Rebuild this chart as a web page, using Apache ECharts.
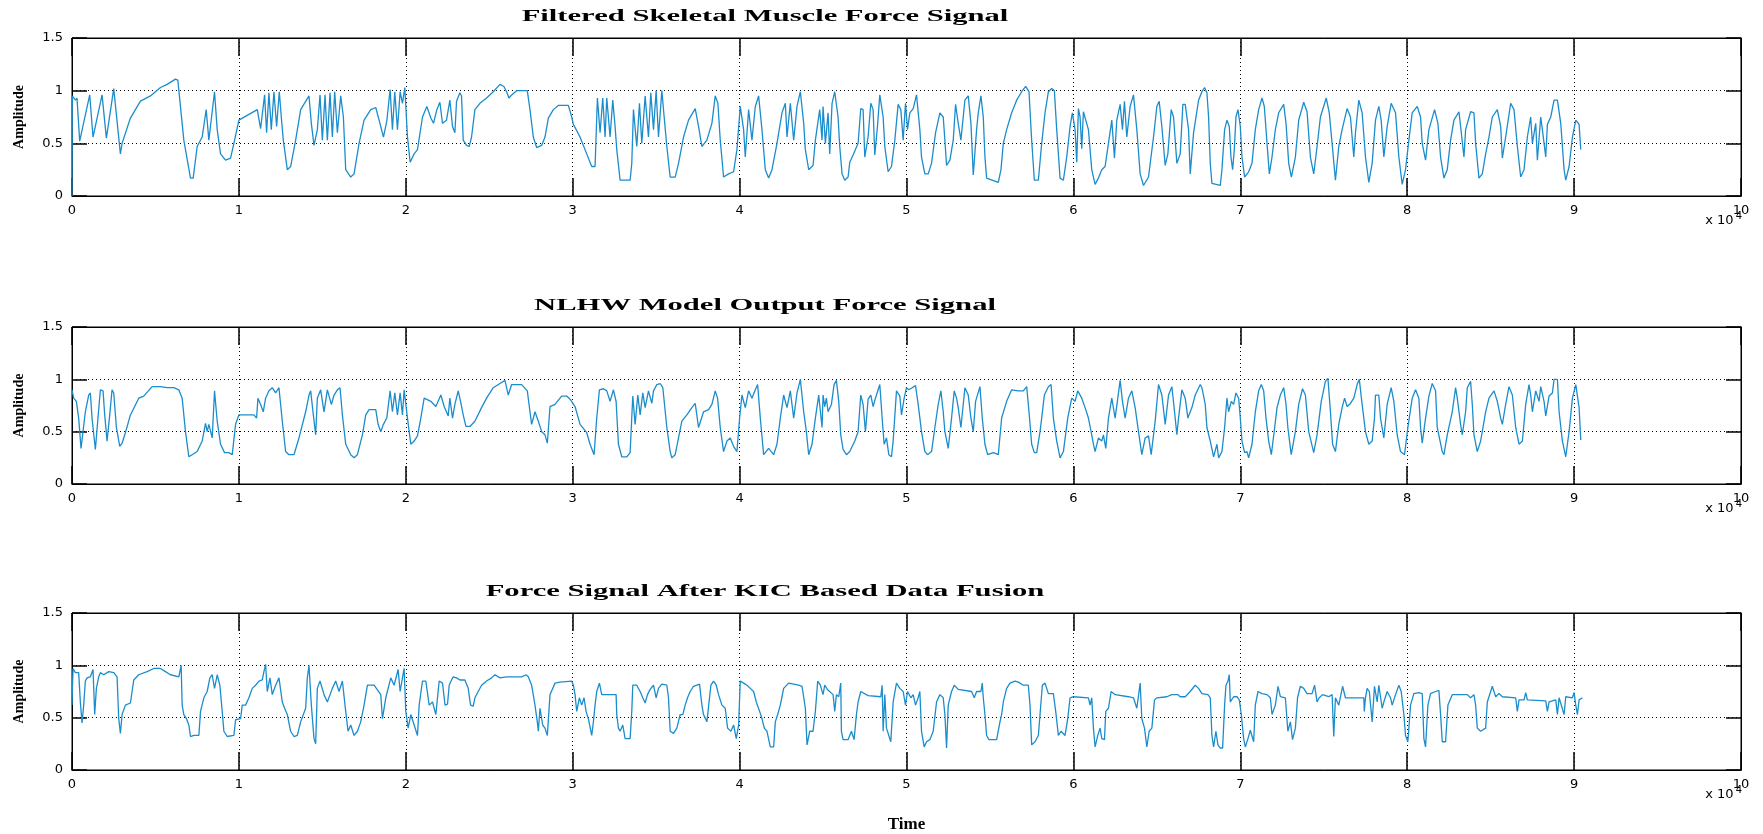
<!DOCTYPE html>
<html>
<head>
<meta charset="utf-8">
<title>Force signals</title>
<script src="https://cdn.jsdelivr.net/npm/echarts@6/dist/echarts.min.js"></script>
<style>
html, body { margin: 0; padding: 0; background: #fff; }
#chart { width: 1763px; height: 834px; }
</style>
</head>
<body>
<div id="chart"></div>
<script>
// time is in units of 10^4 samples, as on the axis
var xTickLabels = ['0', '1', '2', '3', '4', '5', '6', '7', '8', '9', '10'];
var yTickLabels = ['0', '0.5', '1', '1.5'];
var plotTitles = [
    'Filtered Skeletal Muscle Force Signal',
    'NLHW Model Output Force Signal',
    'Force Signal After KIC Based Data Fusion'
];

var muscleForce = [
    [0,0],[0.002,0.95],[0.02,0.91],[0.03,0.93],[0.046,0.52],[0.106,0.96],[0.126,0.56],[0.18,0.96],[0.206,0.55],[0.25,1.02],
    [0.29,0.40],[0.30,0.50],[0.35,0.74],[0.41,0.90],[0.47,0.95],[0.53,1.03],[0.57,1.06],[0.62,1.11],[0.634,1.10],[0.67,0.53],
    [0.71,0.17],[0.726,0.17],[0.75,0.47],[0.78,0.56],[0.804,0.82],[0.82,0.53],[0.854,0.99],[0.87,0.63],[0.89,0.40],[0.92,0.34],
    [0.95,0.36],[0.97,0.50],[1.0,0.72],[1.11,0.82],[1.13,0.64],[1.154,0.96],[1.166,0.60],[1.18,0.98],[1.194,0.63],[1.21,0.99],
    [1.226,0.66],[1.242,0.99],[1.254,0.75],[1.266,0.53],[1.29,0.25],[1.31,0.28],[1.34,0.53],[1.37,0.82],[1.42,0.95],[1.434,0.69],
    [1.45,0.48],[1.47,0.63],[1.486,0.96],[1.50,0.53],[1.516,0.96],[1.53,0.53],[1.546,0.98],[1.56,0.56],[1.574,0.99],[1.59,0.60],
    [1.61,0.95],[1.626,0.75],[1.64,0.25],[1.67,0.18],[1.69,0.21],[1.72,0.50],[1.75,0.72],[1.79,0.82],[1.82,0.84],[1.84,0.72],
    [1.866,0.56],[1.886,0.71],[1.906,1.01],[1.92,0.63],[1.934,0.99],[1.95,0.63],[1.966,0.99],[1.98,0.88],[1.994,1.03],[2.01,0.56],
    [2.026,0.32],[2.05,0.40],[2.07,0.44],[2.10,0.75],[2.126,0.85],[2.15,0.74],[2.166,0.69],[2.186,0.82],[2.204,0.89],[2.22,0.69],
    [2.244,0.72],[2.264,0.91],[2.28,0.66],[2.294,0.60],[2.304,0.90],[2.324,0.98],[2.334,0.95],[2.344,0.53],[2.364,0.48],[2.38,0.47],
    [2.394,0.56],[2.414,0.82],[2.444,0.88],[2.484,0.93],[2.524,0.99],[2.564,1.06],[2.588,1.04],[2.604,0.99],[2.618,0.93],[2.634,0.96],
    [2.664,1.0],[2.728,1.0],[2.744,0.82],[2.764,0.56],[2.784,0.46],[2.814,0.48],[2.834,0.56],[2.854,0.74],[2.884,0.82],[2.914,0.86],
    [2.974,0.86],[2.994,0.75],[3.004,0.68],[3.044,0.56],[3.084,0.40],[3.114,0.28],[3.134,0.28],[3.148,0.93],[3.164,0.60],[3.18,0.93],
    [3.194,0.56],[3.204,0.93],[3.224,0.56],[3.24,0.91],[3.254,0.66],[3.264,0.44],[3.284,0.15],[3.344,0.15],[3.354,0.31],[3.364,0.82],
    [3.384,0.47],[3.40,0.88],[3.414,0.50],[3.434,0.95],[3.454,0.56],[3.468,0.98],[3.484,0.63],[3.50,1.0],[3.514,0.56],[3.534,1.0],
    [3.548,0.75],[3.564,0.47],[3.584,0.18],[3.614,0.18],[3.634,0.31],[3.664,0.56],[3.694,0.72],[3.734,0.83],[3.754,0.66],[3.774,0.47],
    [3.804,0.53],[3.834,0.69],[3.854,0.95],[3.87,0.88],[3.884,0.53],[3.904,0.18],[3.934,0.21],[3.964,0.23],[3.984,0.44],[4.004,0.85],
    [4.024,0.63],[4.034,0.37],[4.054,0.82],[4.074,0.53],[4.094,0.85],[4.114,0.95],[4.134,0.63],[4.154,0.25],[4.174,0.17],[4.194,0.25],
    [4.224,0.50],[4.254,0.79],[4.274,0.88],[4.284,0.56],[4.304,0.88],[4.324,0.53],[4.344,0.85],[4.364,0.99],[4.384,0.69],[4.394,0.44],
    [4.414,0.25],[4.44,0.29],[4.454,0.53],[4.48,0.82],[4.494,0.53],[4.50,0.85],[4.514,0.50],[4.53,0.79],[4.54,0.40],[4.554,0.88],
    [4.57,0.99],[4.58,1.0],[4.59,0.75],[4.60,0.47],[4.614,0.21],[4.63,0.15],[4.65,0.18],[4.66,0.32],[4.68,0.39],[4.71,0.50],
    [4.726,0.83],[4.74,0.82],[4.75,0.37],[4.77,0.56],[4.786,0.88],[4.80,0.82],[4.81,0.39],[4.826,0.66],[4.84,0.96],[4.86,0.75],
    [4.87,0.47],[4.89,0.23],[4.91,0.28],[4.93,0.53],[4.95,0.87],[4.966,0.82],[4.98,0.53],[4.994,0.88],[5.006,0.63],[5.02,0.79],
    [5.04,0.83],[5.06,0.96],[5.08,0.63],[5.09,0.37],[5.11,0.21],[5.13,0.21],[5.15,0.31],[5.174,0.60],[5.20,0.79],[5.22,0.75],
    [5.23,0.53],[5.24,0.29],[5.26,0.34],[5.28,0.53],[5.294,0.87],[5.31,0.69],[5.326,0.53],[5.35,0.91],[5.37,0.95],[5.386,0.69],
    [5.40,0.20],[5.42,0.63],[5.43,0.79],[5.446,0.95],[5.46,0.75],[5.47,0.37],[5.48,0.17],[5.55,0.13],[5.566,0.25],[5.58,0.50],
    [5.60,0.63],[5.63,0.79],[5.66,0.91],[5.69,0.99],[5.714,1.04],[5.734,0.99],[5.75,0.53],[5.766,0.15],[5.79,0.15],[5.81,0.50],
    [5.83,0.79],[5.85,0.99],[5.87,1.02],[5.886,1.0],[5.90,0.63],[5.92,0.17],[5.94,0.15],[5.96,0.37],[5.98,0.66],[5.994,0.79],
    [6.01,0.63],[6.02,0.32],[6.03,0.83],[6.04,0.75],[6.05,0.45],[6.06,0.80],[6.07,0.80],[6.09,0.63],[6.11,0.25],[6.13,0.11],
    [6.15,0.17],[6.17,0.25],[6.19,0.28],[6.21,0.50],[6.23,0.72],[6.246,0.36],[6.26,0.72],[6.28,0.87],[6.294,0.63],[6.306,0.90],
    [6.32,0.56],[6.34,0.85],[6.36,0.96],[6.38,0.63],[6.40,0.21],[6.42,0.10],[6.45,0.18],[6.48,0.56],[6.50,0.85],[6.514,0.90],
    [6.53,0.66],[6.55,0.29],[6.566,0.40],[6.586,0.82],[6.60,0.75],[6.62,0.31],[6.64,0.40],[6.656,0.87],[6.67,0.87],[6.69,0.63],
    [6.70,0.21],[6.72,0.60],[6.75,0.91],[6.77,0.99],[6.786,1.03],[6.80,0.98],[6.81,0.75],[6.82,0.31],[6.83,0.12],[6.88,0.10],
    [6.89,0.25],[6.906,0.63],[6.92,0.72],[6.934,0.66],[6.944,0.37],[6.954,0.25],[6.964,0.44],[6.974,0.75],[6.986,0.82],[7.0,0.66],
    [7.01,0.37],[7.026,0.18],[7.05,0.23],[7.07,0.31],[7.09,0.63],[7.11,0.82],[7.13,0.93],[7.144,0.85],[7.16,0.50],[7.174,0.21],
    [7.19,0.37],[7.21,0.63],[7.23,0.79],[7.26,0.87],[7.274,0.69],[7.29,0.31],[7.306,0.18],[7.33,0.37],[7.35,0.72],[7.38,0.89],
    [7.40,0.80],[7.42,0.37],[7.44,0.21],[7.46,0.47],[7.48,0.75],[7.515,0.93],[7.533,0.79],[7.55,0.50],[7.57,0.15],[7.59,0.47],
    [7.61,0.63],[7.64,0.83],[7.66,0.75],[7.68,0.37],[7.69,0.60],[7.71,0.91],[7.73,0.79],[7.75,0.37],[7.77,0.13],[7.79,0.31],
    [7.81,0.72],[7.83,0.85],[7.844,0.72],[7.86,0.37],[7.88,0.66],[7.904,0.88],[7.93,0.79],[7.95,0.37],[7.97,0.11],[7.99,0.25],
    [8.01,0.53],[8.03,0.79],[8.06,0.85],[8.08,0.75],[8.09,0.50],[8.11,0.34],[8.13,0.63],[8.164,0.82],[8.184,0.69],[8.20,0.37],
    [8.22,0.17],[8.24,0.25],[8.26,0.53],[8.28,0.72],[8.31,0.80],[8.32,0.66],[8.34,0.37],[8.35,0.63],[8.38,0.80],[8.40,0.79],
    [8.41,0.50],[8.43,0.17],[8.45,0.21],[8.47,0.40],[8.49,0.56],[8.51,0.75],[8.54,0.82],[8.56,0.66],[8.57,0.36],[8.59,0.56],
    [8.62,0.88],[8.64,0.82],[8.66,0.47],[8.68,0.18],[8.70,0.25],[8.72,0.56],[8.74,0.75],[8.75,0.50],[8.77,0.69],[8.78,0.34],
    [8.80,0.75],[8.81,0.63],[8.83,0.37],[8.84,0.68],[8.86,0.75],[8.88,0.91],[8.90,0.91],[8.92,0.69],[8.94,0.25],[8.95,0.15],
    [8.97,0.28],[8.99,0.56],[9.01,0.72],[9.03,0.68],[9.04,0.44]
];

var modelForce = [
    [0.0,0.90],[0.01,0.82],[0.026,0.79],[0.04,0.63],[0.054,0.34],[0.066,0.50],[0.08,0.69],[0.10,0.85],[0.11,0.87],[0.12,0.63],
    [0.14,0.33],[0.154,0.60],[0.17,0.90],[0.186,0.89],[0.196,0.66],[0.21,0.41],[0.226,0.66],[0.24,0.90],[0.25,0.87],[0.266,0.54],
    [0.286,0.36],[0.30,0.39],[0.32,0.49],[0.35,0.66],[0.40,0.82],[0.43,0.84],[0.48,0.93],[0.53,0.93],[0.57,0.92],[0.61,0.92],
    [0.64,0.90],[0.66,0.82],[0.68,0.50],[0.70,0.26],[0.72,0.28],[0.75,0.31],[0.78,0.41],[0.80,0.58],[0.81,0.50],[0.82,0.57],
    [0.84,0.44],[0.854,0.89],[0.87,0.60],[0.89,0.38],[0.914,0.30],[0.94,0.30],[0.96,0.28],[0.98,0.57],[1.0,0.66],[1.09,0.66],
    [1.106,0.63],[1.114,0.82],[1.13,0.76],[1.146,0.69],[1.16,0.82],[1.18,0.89],[1.20,0.92],[1.22,0.87],[1.24,0.92],[1.26,0.60],
    [1.28,0.31],[1.30,0.28],[1.33,0.28],[1.36,0.44],[1.40,0.69],[1.42,0.85],[1.43,0.89],[1.446,0.66],[1.46,0.47],[1.47,0.82],
    [1.49,0.90],[1.51,0.69],[1.53,0.90],[1.554,0.76],[1.57,0.85],[1.59,0.90],[1.606,0.92],[1.62,0.66],[1.64,0.38],[1.67,0.28],
    [1.69,0.25],[1.71,0.28],[1.74,0.47],[1.76,0.66],[1.78,0.71],[1.82,0.71],[1.834,0.57],[1.85,0.50],[1.866,0.57],[1.886,0.63],
    [1.906,0.89],[1.92,0.69],[1.934,0.87],[1.95,0.66],[1.966,0.87],[1.98,0.66],[1.99,0.90],[2.01,0.63],[2.03,0.38],[2.05,0.41],
    [2.07,0.46],[2.09,0.63],[2.11,0.82],[2.15,0.79],[2.18,0.74],[2.21,0.85],[2.23,0.74],[2.254,0.65],[2.264,0.82],[2.28,0.63],
    [2.294,0.76],[2.314,0.89],[2.328,0.79],[2.344,0.66],[2.36,0.55],[2.384,0.55],[2.414,0.60],[2.454,0.73],[2.484,0.82],[2.524,0.92],
    [2.564,0.96],[2.594,0.99],[2.614,0.85],[2.634,0.95],[2.694,0.95],[2.728,0.89],[2.744,0.69],[2.754,0.57],[2.774,0.69],[2.794,0.60],
    [2.814,0.50],[2.834,0.47],[2.848,0.39],[2.864,0.74],[2.894,0.76],[2.934,0.84],[2.964,0.84],[2.984,0.81],[3.014,0.74],[3.044,0.57],
    [3.084,0.49],[3.104,0.38],[3.128,0.28],[3.144,0.63],[3.16,0.90],[3.184,0.91],[3.204,0.89],[3.224,0.79],[3.244,0.90],[3.26,0.79],
    [3.274,0.38],[3.294,0.26],[3.324,0.26],[3.344,0.30],[3.36,0.84],[3.374,0.57],[3.39,0.85],[3.404,0.66],[3.42,0.87],[3.434,0.73],
    [3.454,0.89],[3.474,0.77],[3.484,0.89],[3.504,0.95],[3.524,0.96],[3.54,0.92],[3.564,0.54],[3.584,0.31],[3.594,0.25],[3.614,0.28],
    [3.634,0.44],[3.654,0.60],[3.684,0.66],[3.714,0.73],[3.734,0.77],[3.754,0.54],[3.784,0.69],[3.814,0.71],[3.834,0.76],[3.854,0.89],
    [3.868,0.82],[3.884,0.54],[3.904,0.31],[3.924,0.41],[3.944,0.44],[3.964,0.36],[3.984,0.31],[4.0,0.63],[4.014,0.85],[4.034,0.73],
    [4.054,0.89],[4.074,0.82],[4.094,0.90],[4.108,0.95],[4.124,0.63],[4.144,0.28],[4.174,0.34],[4.204,0.28],[4.224,0.38],[4.244,0.63],
    [4.264,0.85],[4.284,0.73],[4.304,0.89],[4.324,0.63],[4.344,0.87],[4.364,1.0],[4.384,0.69],[4.40,0.50],[4.414,0.28],[4.434,0.38],
    [4.454,0.63],[4.474,0.85],[4.494,0.54],[4.50,0.85],[4.51,0.74],[4.52,0.82],[4.53,0.69],[4.55,0.76],[4.566,0.95],[4.58,0.99],
    [4.594,0.79],[4.606,0.47],[4.62,0.33],[4.64,0.28],[4.66,0.31],[4.69,0.41],[4.71,0.50],[4.726,0.85],[4.74,0.76],[4.754,0.50],
    [4.77,0.81],[4.786,0.85],[4.80,0.74],[4.814,0.82],[4.83,0.90],[4.84,0.95],[4.854,0.63],[4.866,0.38],[4.88,0.44],[4.894,0.28],
    [4.91,0.26],[4.92,0.41],[4.94,0.89],[4.96,0.84],[4.97,0.66],[4.986,0.82],[5.0,0.92],[5.014,0.90],[5.034,0.92],[5.054,0.94],
    [5.07,0.76],[5.09,0.50],[5.11,0.31],[5.126,0.28],[5.15,0.31],[5.17,0.54],[5.19,0.76],[5.206,0.89],[5.22,0.69],[5.23,0.50],
    [5.25,0.34],[5.27,0.63],[5.286,0.89],[5.30,0.82],[5.31,0.73],[5.326,0.54],[5.35,0.92],[5.37,0.85],[5.386,0.63],[5.40,0.50],
    [5.414,0.79],[5.44,0.93],[5.454,0.63],[5.47,0.38],[5.486,0.28],[5.52,0.30],[5.55,0.28],[5.57,0.63],[5.60,0.79],[5.63,0.90],
    [5.67,0.89],[5.70,0.89],[5.72,0.93],[5.734,0.69],[5.75,0.38],[5.766,0.30],[5.78,0.30],[5.80,0.50],[5.81,0.63],[5.826,0.85],
    [5.85,0.93],[5.866,0.95],[5.88,0.63],[5.90,0.41],[5.92,0.25],[5.94,0.31],[5.966,0.63],[5.99,0.82],[6.01,0.79],[6.026,0.89],
    [6.05,0.82],[6.07,0.73],[6.09,0.63],[6.106,0.50],[6.12,0.38],[6.13,0.31],[6.15,0.44],[6.17,0.41],[6.18,0.47],[6.194,0.34],
    [6.21,0.63],[6.23,0.82],[6.25,0.63],[6.266,0.82],[6.28,0.99],[6.294,0.79],[6.31,0.63],[6.33,0.82],[6.35,0.89],[6.37,0.73],
    [6.39,0.50],[6.41,0.28],[6.43,0.44],[6.45,0.46],[6.466,0.28],[6.49,0.60],[6.51,0.95],[6.53,0.85],[6.55,0.57],[6.57,0.85],
    [6.59,0.93],[6.606,0.69],[6.62,0.47],[6.63,0.63],[6.65,0.90],[6.67,0.82],[6.686,0.63],[6.71,0.73],[6.73,0.85],[6.76,0.95],
    [6.77,0.92],[6.79,0.76],[6.80,0.54],[6.82,0.41],[6.84,0.26],[6.86,0.38],[6.87,0.25],[6.89,0.31],[6.906,0.54],[6.92,0.82],
    [6.93,0.69],[6.946,0.79],[6.96,0.76],[6.974,0.87],[6.99,0.82],[7.0,0.63],[7.01,0.41],[7.026,0.30],[7.04,0.31],[7.05,0.25],
    [7.07,0.38],[7.09,0.69],[7.11,0.89],[7.126,0.95],[7.14,0.89],[7.154,0.63],[7.17,0.41],[7.186,0.28],[7.206,0.54],[7.22,0.73],
    [7.24,0.85],[7.26,0.92],[7.274,0.76],[7.285,0.54],[7.305,0.28],[7.33,0.50],[7.35,0.76],[7.373,0.91],[7.39,0.85],[7.41,0.50],
    [7.44,0.30],[7.46,0.47],[7.485,0.79],[7.51,0.98],[7.525,1.01],[7.54,0.69],[7.553,0.38],[7.57,0.31],[7.59,0.57],[7.61,0.73],
    [7.625,0.82],[7.64,0.74],[7.66,0.77],[7.68,0.82],[7.70,0.95],[7.713,1.0],[7.73,0.76],[7.75,0.50],[7.77,0.38],[7.79,0.41],
    [7.804,0.63],[7.81,0.85],[7.83,0.85],[7.84,0.63],[7.86,0.44],[7.88,0.76],[7.904,0.92],[7.92,0.79],[7.94,0.47],[7.96,0.31],
    [7.984,0.28],[8.004,0.54],[8.03,0.82],[8.05,0.90],[8.07,0.82],[8.08,0.54],[8.09,0.39],[8.11,0.63],[8.13,0.84],[8.15,0.96],
    [8.17,0.89],[8.18,0.54],[8.21,0.31],[8.22,0.28],[8.24,0.47],[8.27,0.69],[8.29,0.92],[8.30,0.82],[8.32,0.57],[8.33,0.47],
    [8.35,0.69],[8.36,0.92],[8.38,0.98],[8.39,0.76],[8.40,0.47],[8.42,0.31],[8.44,0.41],[8.47,0.69],[8.49,0.82],[8.52,0.89],
    [8.54,0.79],[8.56,0.63],[8.57,0.57],[8.59,0.76],[8.61,0.93],[8.63,0.85],[8.65,0.54],[8.67,0.38],[8.69,0.41],[8.71,0.76],
    [8.73,0.95],[8.74,0.85],[8.75,0.69],[8.77,0.89],[8.79,0.79],[8.80,0.93],[8.82,0.79],[8.83,0.65],[8.85,0.84],[8.87,0.87],
    [8.88,1.0],[8.90,1.0],[8.91,0.69],[8.93,0.41],[8.95,0.26],[8.97,0.50],[8.99,0.82],[9.01,0.95],[9.03,0.73],[9.04,0.42]
];

var fusionForce = [
    [0,0.62],[0.006,0.97],[0.02,0.93],[0.04,0.93],[0.05,0.65],[0.06,0.45],[0.07,0.62],[0.08,0.85],[0.09,0.88],[0.11,0.89],
    [0.126,0.96],[0.136,0.53],[0.146,0.78],[0.16,0.89],[0.17,0.93],[0.19,0.91],[0.22,0.94],[0.25,0.93],[0.27,0.89],[0.28,0.49],
    [0.29,0.35],[0.30,0.53],[0.32,0.62],[0.35,0.64],[0.37,0.86],[0.40,0.91],[0.45,0.94],[0.49,0.97],[0.53,0.97],[0.56,0.94],
    [0.59,0.91],[0.64,0.89],[0.654,1.0],[0.66,0.62],[0.67,0.53],[0.686,0.49],[0.70,0.43],[0.71,0.32],[0.73,0.33],[0.76,0.33],
    [0.77,0.56],[0.79,0.69],[0.81,0.75],[0.826,0.88],[0.84,0.91],[0.854,0.78],[0.87,0.91],[0.886,0.81],[0.90,0.56],[0.91,0.37],
    [0.93,0.32],[0.97,0.33],[0.98,0.48],[1.01,0.49],[1.02,0.62],[1.04,0.62],[1.06,0.69],[1.08,0.78],[1.10,0.81],[1.12,0.85],
    [1.14,0.86],[1.15,0.94],[1.16,1.01],[1.17,0.75],[1.186,0.88],[1.20,0.72],[1.22,0.81],[1.24,0.88],[1.26,0.65],[1.274,0.59],
    [1.29,0.53],[1.31,0.37],[1.33,0.32],[1.35,0.33],[1.37,0.46],[1.40,0.59],[1.41,0.88],[1.42,1.0],[1.434,0.62],[1.45,0.30],
    [1.46,0.25],[1.47,0.78],[1.486,0.85],[1.51,0.72],[1.53,0.65],[1.56,0.78],[1.58,0.85],[1.60,0.75],[1.62,0.85],[1.64,0.56],
    [1.654,0.37],[1.67,0.43],[1.69,0.33],[1.71,0.37],[1.73,0.46],[1.75,0.62],[1.77,0.81],[1.81,0.81],[1.85,0.72],[1.86,0.49],
    [1.88,0.69],[1.91,0.88],[1.93,0.81],[1.954,0.96],[1.966,0.75],[1.98,0.88],[1.99,0.97],[2.0,0.56],[2.014,0.40],[2.03,0.53],
    [2.05,0.43],[2.07,0.33],[2.08,0.62],[2.10,0.85],[2.12,0.85],[2.14,0.62],[2.16,0.65],[2.18,0.53],[2.20,0.85],[2.22,0.83],
    [2.235,0.62],[2.25,0.63],[2.26,0.81],[2.274,0.86],[2.284,0.89],[2.304,0.88],[2.324,0.86],[2.354,0.86],[2.374,0.78],[2.388,0.62],
    [2.404,0.61],[2.414,0.69],[2.434,0.75],[2.454,0.81],[2.484,0.85],[2.514,0.88],[2.534,0.91],[2.564,0.88],[2.604,0.89],[2.694,0.89],
    [2.72,0.91],[2.734,0.89],[2.754,0.81],[2.774,0.62],[2.788,0.46],[2.794,0.37],[2.804,0.59],[2.82,0.43],[2.834,0.40],[2.848,0.33],
    [2.864,0.72],[2.894,0.83],[2.924,0.84],[2.994,0.85],[3.004,0.81],[3.014,0.72],[3.024,0.56],[3.04,0.69],[3.054,0.62],[3.068,0.69],
    [3.08,0.56],[3.094,0.49],[3.114,0.33],[3.124,0.46],[3.134,0.62],[3.144,0.75],[3.16,0.83],[3.174,0.72],[3.26,0.72],[3.264,0.53],
    [3.274,0.40],[3.284,0.37],[3.30,0.43],[3.314,0.30],[3.344,0.30],[3.354,0.56],[3.36,0.81],[3.384,0.81],[3.404,0.75],[3.42,0.69],
    [3.434,0.64],[3.448,0.72],[3.464,0.77],[3.484,0.81],[3.50,0.69],[3.514,0.78],[3.534,0.82],[3.564,0.81],[3.574,0.69],[3.584,0.37],
    [3.604,0.35],[3.624,0.40],[3.644,0.53],[3.66,0.53],[3.674,0.62],[3.688,0.69],[3.704,0.75],[3.724,0.80],[3.76,0.82],[3.774,0.62],
    [3.784,0.53],[3.804,0.46],[3.828,0.81],[3.844,0.85],[3.86,0.81],[3.874,0.72],[3.894,0.62],[3.914,0.59],[3.928,0.40],[3.948,0.37],
    [3.964,0.43],[3.98,0.30],[3.994,0.43],[4.004,0.85],[4.024,0.83],[4.044,0.81],[4.064,0.78],[4.084,0.75],[4.10,0.65],[4.12,0.56],
    [4.134,0.49],[4.148,0.40],[4.164,0.37],[4.184,0.22],[4.204,0.22],[4.214,0.46],[4.228,0.53],[4.244,0.62],[4.264,0.78],[4.294,0.83],
    [4.354,0.81],[4.374,0.80],[4.394,0.59],[4.404,0.24],[4.42,0.37],[4.44,0.37],[4.454,0.56],[4.468,0.85],[4.484,0.81],[4.50,0.72],
    [4.51,0.81],[4.526,0.77],[4.56,0.72],[4.57,0.56],[4.58,0.72],[4.594,0.70],[4.606,0.83],[4.61,0.37],[4.62,0.29],[4.65,0.29],
    [4.67,0.37],[4.686,0.29],[4.70,0.53],[4.71,0.65],[4.726,0.75],[4.77,0.71],[4.846,0.70],[4.854,0.81],[4.86,0.37],[4.87,0.72],
    [4.88,0.40],[4.894,0.33],[4.906,0.27],[4.92,0.65],[4.94,0.83],[4.96,0.78],[4.98,0.75],[4.994,0.62],[5.006,0.75],[5.026,0.69],
    [5.04,0.72],[5.054,0.62],[5.07,0.69],[5.08,0.75],[5.09,0.37],[5.106,0.22],[5.12,0.27],[5.14,0.29],[5.16,0.37],[5.18,0.65],
    [5.20,0.72],[5.22,0.69],[5.23,0.53],[5.24,0.21],[5.25,0.62],[5.27,0.75],[5.286,0.81],[5.31,0.77],[5.39,0.75],[5.406,0.69],
    [5.42,0.75],[5.446,0.75],[5.454,0.83],[5.46,0.69],[5.47,0.53],[5.48,0.33],[5.494,0.29],[5.54,0.29],[5.56,0.46],[5.57,0.53],
    [5.58,0.65],[5.60,0.78],[5.62,0.83],[5.65,0.85],[5.67,0.84],[5.70,0.81],[5.73,0.81],[5.74,0.62],[5.75,0.24],[5.77,0.27],
    [5.79,0.33],[5.80,0.53],[5.814,0.81],[5.83,0.83],[5.85,0.73],[5.88,0.73],[5.894,0.56],[5.91,0.33],[5.926,0.37],[5.95,0.33],
    [5.966,0.49],[5.98,0.69],[6.0,0.70],[6.09,0.69],[6.10,0.62],[6.11,0.69],[6.12,0.40],[6.13,0.22],[6.146,0.33],[6.16,0.40],
    [6.17,0.30],[6.186,0.29],[6.194,0.56],[6.21,0.59],[6.226,0.75],[6.25,0.72],[6.33,0.70],[6.36,0.69],[6.38,0.59],[6.40,0.83],
    [6.41,0.49],[6.426,0.40],[6.44,0.22],[6.454,0.37],[6.47,0.40],[6.486,0.67],[6.50,0.69],[6.56,0.70],[6.59,0.72],[6.626,0.72],
    [6.64,0.70],[6.67,0.70],[6.70,0.75],[6.73,0.81],[6.75,0.78],[6.77,0.73],[6.806,0.72],[6.82,0.69],[6.83,0.33],[6.84,0.22],
    [6.854,0.37],[6.866,0.24],[6.88,0.21],[6.894,0.21],[6.906,0.62],[6.914,0.81],[6.926,0.85],[6.934,0.91],[6.94,0.65],[6.96,0.70],
    [6.98,0.70],[6.994,0.67],[7.006,0.53],[7.02,0.30],[7.03,0.22],[7.046,0.30],[7.06,0.38],[7.08,0.27],[7.09,0.62],[7.106,0.75],
    [7.13,0.73],[7.16,0.72],[7.18,0.69],[7.19,0.53],[7.21,0.62],[7.226,0.80],[7.24,0.70],[7.27,0.69],[7.285,0.37],[7.30,0.46],
    [7.313,0.29],[7.33,0.40],[7.343,0.69],[7.36,0.80],[7.38,0.78],[7.40,0.73],[7.43,0.73],[7.445,0.81],[7.46,0.65],[7.473,0.69],
    [7.493,0.72],[7.53,0.70],[7.55,0.72],[7.56,0.32],[7.57,0.69],[7.59,0.62],[7.613,0.80],[7.63,0.69],[7.74,0.69],[7.743,0.56],
    [7.75,0.69],[7.76,0.78],[7.773,0.75],[7.79,0.46],[7.804,0.80],[7.82,0.65],[7.83,0.81],[7.85,0.59],[7.86,0.65],[7.88,0.75],
    [7.90,0.69],[7.91,0.62],[7.93,0.72],[7.95,0.81],[7.964,0.75],[7.98,0.53],[7.99,0.33],[8.004,0.27],[8.02,0.62],[8.04,0.73],
    [8.07,0.74],[8.09,0.73],[8.10,0.30],[8.11,0.22],[8.124,0.62],[8.14,0.73],[8.17,0.75],[8.19,0.76],[8.20,0.53],[8.21,0.27],
    [8.23,0.27],[8.244,0.62],[8.27,0.72],[8.33,0.72],[8.36,0.72],[8.38,0.69],[8.40,0.72],[8.41,0.62],[8.42,0.40],[8.44,0.37],
    [8.47,0.40],[8.48,0.65],[8.50,0.75],[8.51,0.80],[8.53,0.70],[8.55,0.73],[8.57,0.70],[8.65,0.69],[8.66,0.56],[8.67,0.67],
    [8.70,0.67],[8.71,0.74],[8.72,0.67],[8.83,0.66],[8.84,0.56],[8.85,0.65],[8.89,0.67],[8.90,0.53],[8.91,0.69],[8.94,0.53],
    [8.95,0.70],[8.99,0.69],[9.0,0.74],[9.01,0.62],[9.02,0.53],[9.03,0.67],[9.05,0.69]
];

var LINE_COLOR = '#1b8dcc';
var SERIF = '"Liberation Serif", "DejaVu Serif", serif';
var SANS = '"DejaVu Sans", "Liberation Sans", sans-serif';

var panels = [
    { top: 38, height: 158, data: muscleForce },
    { top: 327, height: 157, data: modelForce },
    { top: 613, height: 157, data: fusionForce }
];

function ejeX(i, abajo) {
    var eje = {
        type: 'value', gridIndex: i, min: 0, max: 10, interval: 1,
        position: abajo ? 'bottom' : 'top',
        axisLine: { show: true, onZero: false, lineStyle: { color: '#000', width: 1 } },
        axisTick: { show: true, inside: true, length: 18, lineStyle: { color: '#000', width: 1.5 } },
        axisLabel: {
            show: abajo, color: '#000', fontFamily: SANS, fontSize: 13, margin: 8,
            formatter: function (v) { return xTickLabels[Math.round(v)]; }
        },
        splitLine: { show: abajo, lineStyle: { color: '#000', type: [1, 3], width: 1 } }
    };
    if (abajo && i === 2) {
        eje.name = 'Time';
        eje.nameLocation = 'middle';
        eje.nameGap = 46;
        eje.nameTextStyle = { color: '#000', fontFamily: SERIF, fontWeight: 'bold', fontSize: 17 };
    }
    return eje;
}

function ejeY(i, izq) {
    var eje = {
        type: 'value', gridIndex: i, min: 0, max: 1.5, interval: 0.5,
        position: izq ? 'left' : 'right',
        axisLine: { show: true, onZero: false, lineStyle: { color: '#000', width: 1 } },
        axisTick: { show: true, inside: true, length: 15, lineStyle: { color: '#000', width: 1.5 } },
        axisLabel: {
            show: izq, color: '#000', fontFamily: SANS, fontSize: 13, margin: 9,
            formatter: function (v) { return yTickLabels[Math.round(v / 0.5)]; }
        },
        splitLine: { show: izq, lineStyle: { color: '#000', type: [1, 3], width: 1 } }
    };
    if (izq) {
        eje.name = 'Amplitude';
        eje.nameLocation = 'middle';
        eje.nameGap = 46;
        eje.nameTextStyle = { color: '#000', fontFamily: SERIF, fontWeight: 'bold', fontSize: 14 };
    }
    return eje;
}

var grids = [], xAxes = [], yAxes = [], series = [], graficos = [];
panels.forEach(function (p, i) {
    grids.push({ left: 72, right: 22, top: p.top, height: p.height, show: true, borderColor: '#000', borderWidth: 1 });
    xAxes.push(ejeX(i, true), ejeX(i, false));
    yAxes.push(ejeY(i, true), ejeY(i, false));
    series.push({
        type: 'line', xAxisIndex: 2 * i, yAxisIndex: 2 * i,
        data: p.data, showSymbol: false, symbol: 'none',
        lineStyle: { color: LINE_COLOR, width: 1.3 },
        animation: false
    });
    // the source figure is stretched sideways, so the titles are widened too
    graficos.push({
        type: 'text', x: 765, y: p.top - 21, scaleX: 1.8,
        style: {
            text: plotTitles[i], fill: '#000', align: 'center', verticalAlign: 'middle',
            font: 'bold 17px ' + SERIF
        }
    });
    graficos.push({
        type: 'text', x: 1742, y: p.top + p.height + 25,
        style: {
            text: '{b|x 10}{s|4}', align: 'right', verticalAlign: 'middle',
            rich: {
                b: { fontFamily: SANS, fontSize: 13, color: '#000' },
                s: { fontFamily: SANS, fontSize: 10, color: '#000', verticalAlign: 'top', padding: [0, 0, 9, 2] }
            }
        }
    });
});

var chart = echarts.init(document.getElementById('chart'));
chart.setOption({
    backgroundColor: '#fff',
    animation: false,
    grid: grids,
    xAxis: xAxes,
    yAxis: yAxes,
    series: series,
    graphic: graficos
});
</script>
</body>
</html>
